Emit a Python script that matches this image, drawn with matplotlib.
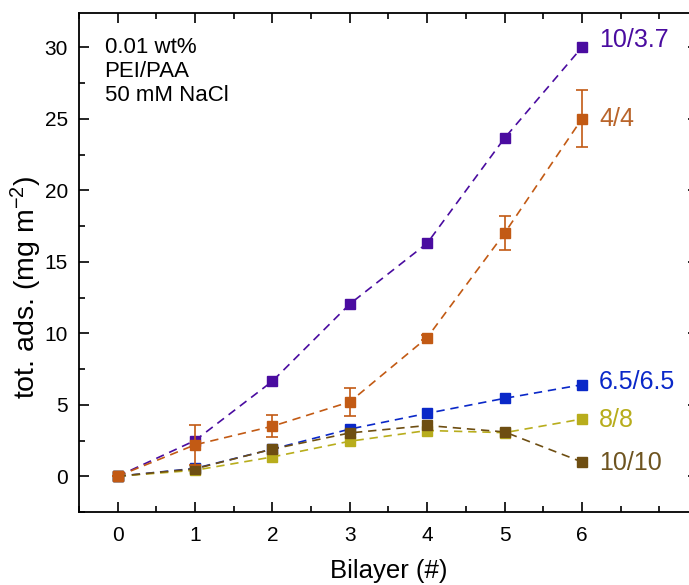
import matplotlib
matplotlib.use("Agg")
import matplotlib.pyplot as plt
from matplotlib.ticker import MultipleLocator

plt.rcParams['font.family'] = ['Liberation Sans', 'DejaVu Sans']
plt.rcParams['mathtext.fontset'] = 'custom'
plt.rcParams['mathtext.rm'] = 'Liberation Sans'
plt.rcParams['mathtext.default'] = 'regular'

bilayer = [0, 1, 2, 3, 4, 5, 6]
s_10_37 = [0, 2.5, 6.65, 12.05, 16.3, 23.65, 30.0]
s_4_4 = [0, 2.2, 3.5, 5.2, 9.7, 17.0, 25.0]
s_4_4_err = [0, 1.4, 0.75, 1.0, 0.15, 1.2, 2.0]
s_65_65 = [0, 0.55, 1.9, 3.3, 4.4, 5.45, 6.4]
s_8_8 = [0, 0.42, 1.35, 2.45, 3.2, 3.05, 4.0]
s_10_10 = [0, 0.52, 1.9, 3.03, 3.55, 3.1, 1.0]

labels = ["10/3.7", "4/4", "6.5/6.5", "8/8", "10/10"]
colors = ["#4A0CA0", "#C25A14", "#0A28C8", "#B8AD1C", "#6E4E12"]
text_colors = ["#4A0CA0", "#B9652B", "#0A28C8", "#B8AD1C", "#6E5420"]
label_y = [30.5, 25.0, 6.6, 3.9, 0.9]

fig = plt.figure(figsize=(6.89, 5.85), dpi=100)
ax = fig.add_axes([79/689, 73/585, 619/689, 499/585])

dash = (0, (5, 3.5))
ms = 7
lw = 1.2
ax.plot(bilayer, s_10_37, ls=dash, lw=lw, color=colors[0], marker='s', ms=ms, mec=colors[0], zorder=2)
ax.plot(bilayer, s_65_65, ls=dash, lw=lw, color=colors[2], marker='s', ms=ms, mec=colors[2], zorder=3)
ax.plot(bilayer, s_8_8, ls=dash, lw=lw, color=colors[3], marker='s', ms=ms, mec=colors[3], zorder=4)
ax.plot(bilayer, s_10_10, ls=dash, lw=lw, color=colors[4], marker='s', ms=ms, mec=colors[4], zorder=5)
ax.errorbar(bilayer, s_4_4, yerr=s_4_4_err, ls=dash, lw=lw, color=colors[1], marker='s', ms=ms,
            mec=colors[1], ecolor=colors[1], elinewidth=1.2, capsize=4.5, capthick=1.2, zorder=6)

for lab, c, yv in zip(labels, text_colors, label_y):
    ax.text(6.22, yv, lab, color=c, fontsize=18, va='center', ha='left')

ax.text(-0.17, 30.75, "0.01 wt%\nPEI/PAA\n50 mM NaCl", fontsize=16, va='top', ha='left',
        linespacing=1.2)

ax.set_xlim(-0.5, 7.5)
ax.set_ylim(-2.5, 32.4)
ax.xaxis.set_major_locator(MultipleLocator(1))
ax.xaxis.set_minor_locator(MultipleLocator(0.5))
ax.yaxis.set_major_locator(MultipleLocator(5))
ax.yaxis.set_minor_locator(MultipleLocator(2.5))
ax.set_xticks([0, 1, 2, 3, 4, 5, 6])
ax.tick_params(which='both', direction='in', top=True, right=True, width=1.2, labelsize=15)
ax.tick_params(which='major', length=7, pad=8)
ax.tick_params(axis='x', which='major', pad=10)
ax.tick_params(which='minor', length=4)
for sp in ax.spines.values():
    sp.set_linewidth(1.3)

ax.set_xlabel("Bilayer (#)", fontsize=18.5, labelpad=10)
ax.set_ylabel("tot. ads. (mg m$^{-2}$)", fontsize=20.5)
ax.yaxis.set_label_coords(-0.056, 0.45)

fig.savefig("out.png", dpi=100)
